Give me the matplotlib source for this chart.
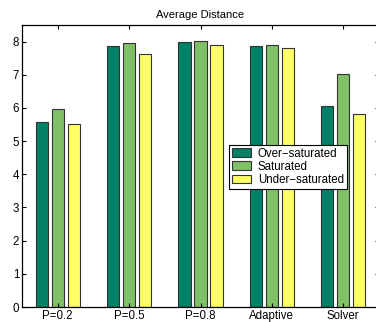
import numpy as np
import matplotlib
matplotlib.use("Agg")
import matplotlib.pyplot as plt

categories = ["P=0.2", "P=0.5", "P=0.8", "Adaptive", "Solver"]
series_names = ["Over\u2212saturated", "Saturated", "Under\u2212saturated"]
over_sat = [5.57, 7.88, 7.99, 7.86, 6.05]
saturated = [5.98, 7.95, 8.02, 7.90, 7.03]
under_sat = [5.52, 7.63, 7.89, 7.81, 5.82]
yticks = [0, 1, 2, 3, 4, 5, 6, 7, 8]

colors = ["#008066", "#80c066", "#ffff66"]

plt.rcParams["font.family"] = ["Liberation Sans", "DejaVu Sans"]
plt.rcParams["font.size"] = 8.3

fig = plt.figure(figsize=(3.76, 3.22), dpi=100)
ax = fig.add_axes([22 / 376, 15 / 322, 357 / 376, 282 / 322])

x = np.arange(1, len(categories) + 1)
width = 0.17
step = 0.225
for i, (vals, name) in enumerate(zip([over_sat, saturated, under_sat], series_names)):
    ax.bar(x + (i - 1) * step, vals, width, color=colors[i], edgecolor="#333333",
           linewidth=0.8, label=name)

ax.set_xlim(0.5, 5.5)
ax.set_ylim(0, 8.5)
ax.set_xticks(x)
ax.set_xticklabels(categories)
ax.set_yticks(yticks)
ax.tick_params(direction="in", length=3, top=True, right=True, width=0.8, pad=2,
               labelsize=8.3)
for s in ax.spines.values():
    s.set_linewidth(0.9)
ax.set_title("Average Distance", fontsize=8, pad=5)

leg = ax.legend(loc="upper left", bbox_to_anchor=(0.58, 0.575), fancybox=False,
                edgecolor="black", framealpha=1, borderpad=0.25, labelspacing=0.1,
                handlelength=1.65, handleheight=0.8, handletextpad=0.6,
                borderaxespad=0, fontsize=8.3)
leg.get_frame().set_linewidth(0.8)

fig.savefig("out.png", dpi=100)
